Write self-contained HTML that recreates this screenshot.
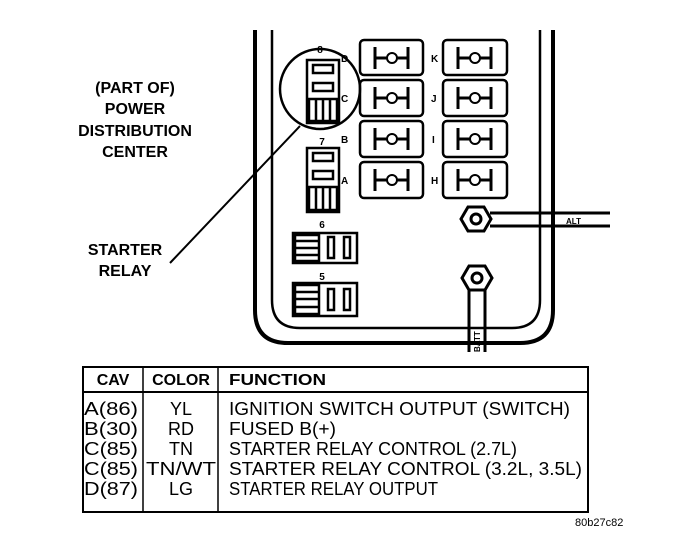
<!DOCTYPE html>
<html><head><style>
html,body{margin:0;padding:0;background:#fff}
svg text{font-family:"Liberation Sans",Arial,sans-serif}
</style></head><body>
<svg width="688" height="550" viewBox="0 0 688 550" xmlns="http://www.w3.org/2000/svg">
<g fill="none" stroke="#000">
<path d="M255 30 V310 Q255 343 288 343 H520 Q553 343 553 310 V30" stroke-width="4"/>
<path d="M272 30 V300 Q272 328 300 328 H512 Q540 328 540 300 V30" stroke-width="2.5"/>
<g stroke-width="2.5">
<rect x="360" y="40" width="63" height="35" rx="4"/>
<rect x="443" y="40" width="64" height="35" rx="4"/>
<rect x="360" y="80" width="63" height="36" rx="4"/>
<rect x="443" y="80" width="64" height="36" rx="4"/>
<rect x="360" y="121" width="63" height="36" rx="4"/>
<rect x="443" y="121" width="64" height="36" rx="4"/>
<rect x="360" y="162" width="63" height="36" rx="4"/>
<rect x="443" y="162" width="64" height="36" rx="4"/>
</g>
<g stroke-width="3">
<path d="M375 47v22M408 47v22M375 58h33M458 47v22M491 47v22M458 58h33"/>
<path d="M375 87v22M408 87v22M375 98h33M458 87v22M491 87v22M458 98h33"/>
<path d="M375 128v22M408 128v22M375 139h33M458 128v22M491 128v22M458 139h33"/>
<path d="M375 169v22M408 169v22M375 180h33M458 169v22M491 169v22M458 180h33"/>
</g>
<g fill="#fff" stroke-width="2">
<circle cx="392" cy="58" r="5"/><circle cx="475" cy="58" r="5"/>
<circle cx="392" cy="98" r="5"/><circle cx="475" cy="98" r="5"/>
<circle cx="392" cy="139" r="5"/><circle cx="475" cy="139" r="5"/>
<circle cx="392" cy="180" r="5"/><circle cx="475" cy="180" r="5"/>
</g>
<circle cx="320" cy="89" r="40" stroke-width="2.5"/>
<line x1="300" y1="126" x2="170" y2="263" stroke-width="2"/>
<g stroke-width="2.5">
<rect x="307" y="60" width="32" height="63"/>
<rect x="313" y="65" width="20" height="8"/><rect x="313" y="83" width="20" height="8"/>
<rect x="309" y="99" width="28" height="22"/>
<path d="M316 99v22M323 99v22M330 99v22"/>
<rect x="307" y="148" width="32" height="64"/>
<rect x="313" y="153" width="20" height="8"/><rect x="313" y="171" width="20" height="8"/>
<rect x="309" y="187" width="28" height="23"/>
<path d="M316 187v23M323 187v23M330 187v23"/>
<rect x="293" y="233" width="64" height="30"/>
<rect x="295" y="235" width="24" height="26"/>
<path d="M295 241h24M295 248h24M295 255h24"/>
<rect x="328" y="237" width="6" height="21"/><rect x="344" y="237" width="6" height="21"/>
<rect x="293" y="283" width="64" height="33"/>
<rect x="295" y="285" width="24" height="29"/>
<path d="M295 292h24M295 299h24M295 307h24"/>
<rect x="328" y="289" width="6" height="21"/><rect x="344" y="289" width="6" height="21"/>
</g>
<path d="M490 213H610M490 226H610" stroke-width="3"/>
<path d="M468 207L484 207L491 219L484 231L468 231L461 219Z" stroke-width="3" fill="#fff"/>
<circle cx="476" cy="219" r="5" stroke-width="3"/>
<path d="M469 290V352M485 290V352" stroke-width="3"/>
<path d="M469 266L485 266L492 278L485 290L469 290L462 278Z" stroke-width="3" fill="#fff"/>
<circle cx="477" cy="278" r="5" stroke-width="3"/>
<rect x="83" y="367" width="505" height="145" stroke-width="2"/>
<line x1="83" y1="392" x2="588" y2="392" stroke-width="2"/>
<line x1="143" y1="367" x2="143" y2="512" stroke-width="1.5"/>
<line x1="218" y1="367" x2="218" y2="512" stroke-width="1.5"/>
</g>
<g font-weight="bold" font-size="10" fill="#000">
<text x="341" y="62">D</text><text x="341" y="102">C</text><text x="341" y="143">B</text><text x="341" y="184">A</text>
<text x="431" y="62">K</text><text x="431" y="102">J</text><text x="432" y="143">I</text><text x="431" y="184">H</text>
<text x="320" y="53" text-anchor="middle">8</text>
<text x="322" y="145" text-anchor="middle">7</text>
<text x="322" y="228" text-anchor="middle">6</text>
<text x="322" y="280" text-anchor="middle">5</text>
<text x="566" y="224" font-size="8">ALT</text>
<text transform="translate(480,352) rotate(-90)" font-size="8">BATT</text>
</g>
<g font-weight="bold" font-size="16" fill="#000" text-anchor="middle">
<text x="135" y="93">(PART OF)</text>
<text x="135" y="114">POWER</text>
<text x="135" y="136">DISTRIBUTION</text>
<text x="135" y="157">CENTER</text>
<text x="125" y="255">STARTER</text>
<text x="125" y="276">RELAY</text>
</g>
<g font-size="18" fill="#000" lengthAdjust="spacingAndGlyphs">
<g font-weight="bold" font-size="16"><text x="113" y="385" text-anchor="middle">CAV</text><text x="181" y="385" text-anchor="middle">COLOR</text><text x="229" y="385" textLength="97" lengthAdjust="spacingAndGlyphs">FUNCTION</text></g>
<text x="84" y="415" textLength="54" lengthAdjust="spacingAndGlyphs">A(86)</text><text x="84" y="435" textLength="54" lengthAdjust="spacingAndGlyphs">B(30)</text><text x="84" y="455" textLength="54" lengthAdjust="spacingAndGlyphs">C(85)</text><text x="84" y="475" textLength="54" lengthAdjust="spacingAndGlyphs">C(85)</text><text x="84" y="495" textLength="54" lengthAdjust="spacingAndGlyphs">D(87)</text>
<g text-anchor="middle"><text x="181" y="415">YL</text><text x="181" y="435">RD</text><text x="181" y="455">TN</text><text x="181" y="475" textLength="70" lengthAdjust="spacingAndGlyphs">TN/WT</text><text x="181" y="495">LG</text></g>
<text x="229" y="415" textLength="341" lengthAdjust="spacingAndGlyphs">IGNITION SWITCH OUTPUT (SWITCH)</text>
<text x="229" y="435" textLength="107" lengthAdjust="spacingAndGlyphs">FUSED B(+)</text>
<text x="229" y="455" textLength="288" lengthAdjust="spacingAndGlyphs">STARTER RELAY CONTROL (2.7L)</text>
<text x="229" y="475" textLength="353" lengthAdjust="spacingAndGlyphs">STARTER RELAY CONTROL (3.2L, 3.5L)</text>
<text x="229" y="495" textLength="209" lengthAdjust="spacingAndGlyphs">STARTER RELAY OUTPUT</text>
</g>
<text x="575" y="526" font-size="11" fill="#000">80b27c82</text>
</svg>
</body></html>
